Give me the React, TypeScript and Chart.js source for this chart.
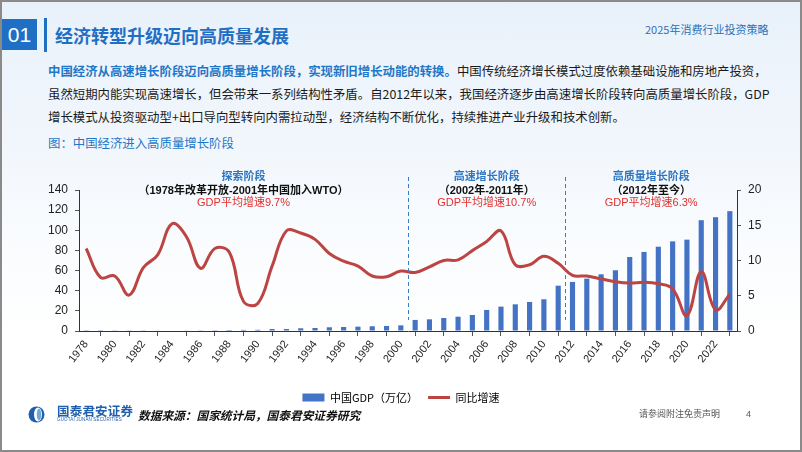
import React, { useEffect, useRef } from 'react';
import { Chart, registerables } from 'chart.js';

Chart.register(...registerables);

// ---------- data ----------
const years = [
  '1978', '1979', '1980', '1981', '1982', '1983', '1984', '1985', '1986', '1987',
  '1988', '1989', '1990', '1991', '1992', '1993', '1994', '1995', '1996', '1997',
  '1998', '1999', '2000', '2001', '2002', '2003', '2004', '2005', '2006', '2007',
  '2008', '2009', '2010', '2011', '2012', '2013', '2014', '2015', '2016', '2017',
  '2018', '2019', '2020', '2021', '2022', '2023',
];

// 中国GDP（万亿）, left axis
const gdpValues = [
  0.2, 0.2, 0.3, 0.3, 0.3, 0.4, 0.5, 0.6, 0.7, 0.8,
  1.0, 1.1, 1.2, 2.0, 2.0, 2.7, 3.0, 3.7, 4.0, 4.3,
  4.7, 5.0, 5.6, 11.0, 11.6, 12.9, 14.2, 15.9, 20.9, 24.2,
  26.5, 28.8, 31.5, 45.0, 48.7, 52.0, 56.3, 60.3, 73.5, 78.5,
  83.7, 89.0, 90.7, 110.0, 113.0, 119.0,
];

// 同比增速 (%), right axis
const growthValues = [
  11.7, 7.6, 7.8, 5.1, 9.0, 10.8, 15.2, 13.4, 8.9, 11.7,
  11.2, 4.2, 3.9, 9.2, 14.2, 13.9, 13.0, 11.0, 9.9, 9.2,
  7.8, 7.7, 8.5, 8.3, 9.1, 10.0, 10.1, 11.4, 12.7, 14.2,
  9.4, 9.4, 10.6, 9.6, 7.9, 7.8, 7.4, 7.0, 6.8, 6.9,
  6.7, 6.0, 2.2, 8.4, 3.0, 5.2,
];

const leftAxisMax = 140;
const leftAxisStep = 20;
const rightAxisMax = 20;
const rightAxisStep = 5;

const seriesNames = ['中国GDP（万亿）', '同比增速'];

const phaseStartIndex = [0, 23, 34];
const phaseEndIndex = [22, 33, 45];
const phaseTitles = ['探索阶段', '高速增长阶段', '高质量增长阶段'];
const phaseSpans = ['（1978年改革开放-2001年中国加入WTO）', '（2002年-2011年）', '（2012年至今）'];
const phaseRates = ['GDP平均增速9.7%', 'GDP平均增速10.7%', 'GDP平均增速6.3%'];

// ---------- styles ----------
const CJK = '"Noto Sans CJK SC", "Noto Sans", sans-serif';
const CHART_FONT = '"Liberation Sans", "Noto Sans CJK SC", sans-serif';
const BLUE = '#1F6FC5';
const BAR_COLOR = '#4472C4';
const LINE_COLOR = '#BC4442';

const phasePlugin = {
  id: 'phases',
  afterDatasetsDraw(chart: any) {
    const { ctx, chartArea, scales } = chart;
    const x = scales.x;
    const step = x.getPixelForValue(1) - x.getPixelForValue(0);
    ctx.save();
    // dashed dividers
    ctx.strokeStyle = '#3B7DC4';
    ctx.lineWidth = 1;
    ctx.setLineDash([4, 3]);
    for (let p = 0; p < phaseEndIndex.length - 1; p++) {
      const bx = Math.round(x.getPixelForValue(phaseEndIndex[p]) + step / 2) + 0.5;
      ctx.beginPath();
      ctx.moveTo(bx, chartArea.top - 13);
      ctx.lineTo(bx, chartArea.bottom - 11);
      ctx.stroke();
    }
    ctx.setLineDash([]);
    // texts
    ctx.textAlign = 'center';
    ctx.textBaseline = 'middle';
    for (let p = 0; p < phaseTitles.length; p++) {
      const l = x.getPixelForValue(phaseStartIndex[p]) - step / 2;
      const r = x.getPixelForValue(phaseEndIndex[p]) + step / 2;
      const cx = (l + r) / 2;
      ctx.fillStyle = '#2E75C0';
      ctx.font = 'bold 11px ' + CJK;
      ctx.fillText(phaseTitles[p], cx, chartArea.top - 14);
      ctx.fillStyle = '#111';
      ctx.font = 'bold 11px ' + CHART_FONT;
      ctx.fillText(phaseSpans[p], cx, chartArea.top + 1);
      ctx.fillStyle = '#E0302D';
      ctx.font = '11px ' + CHART_FONT;
      ctx.fillText(phaseRates[p], cx, chartArea.top + 13);
    }
    ctx.restore();
  },
};

export default function App() {
  const ref = useRef<HTMLCanvasElement>(null);

  useEffect(() => {
    const canvas = ref.current;
    if (!canvas) return;
    const chart = new Chart(canvas, {
      type: 'bar',
      data: {
        labels: years,
        datasets: [
          {
            type: 'bar',
            label: seriesNames[0],
            data: gdpValues,
            yAxisID: 'y',
            backgroundColor: BAR_COLOR,
            borderWidth: 0,
            categoryPercentage: 1,
            barPercentage: 0.36,
            order: 2,
            pointStyle: 'rect',
          } as any,
          {
            type: 'line',
            label: seriesNames[1],
            data: growthValues,
            yAxisID: 'y1',
            borderColor: LINE_COLOR,
            backgroundColor: LINE_COLOR,
            borderWidth: 3,
            tension: 0.4,
            pointRadius: 0,
            pointStyle: 'line',
            order: 1,
          } as any,
        ],
      },
      options: {
        responsive: false,
        animation: false,
        layout: { padding: { top: 30, left: 0, right: 0, bottom: 0 } },
        plugins: {
          tooltip: { enabled: false },
          legend: {
            display: true,
            position: 'bottom',
            labels: {
              usePointStyle: true,
              pointStyleWidth: 22,
              boxHeight: 8,
              padding: 10,
              color: '#000',
              font: { family: CJK, size: 11 },
              sort: (a: any, b: any) => a.datasetIndex - b.datasetIndex,
            },
          },
        },
        scales: {
          x: {
            type: 'category',
            offset: true,
            grid: {
              display: true,
              offset: true,
              drawOnChartArea: false,
              drawTicks: true,
              tickLength: 5,
              color: '#555',
            },
            border: { display: true, color: '#333', width: 1 },
            ticks: {
              autoSkip: false,
              maxRotation: 52,
              minRotation: 52,
              padding: 2,
              color: '#222',
              font: { family: CHART_FONT, size: 11 },
              callback: (_v: any, i: number) => (i % 2 === 0 ? years[i] : null),
            },
            afterFit: (s: any) => {
              s.height = 51;
            },
          },
          y: {
            position: 'left',
            min: 0,
            max: leftAxisMax,
            grid: {
              display: true,
              drawOnChartArea: false,
              drawTicks: true,
              tickLength: 4,
              color: '#555',
            },
            border: { display: true, color: '#333', width: 1 },
            ticks: {
              stepSize: leftAxisStep,
              padding: 7,
              color: '#222',
              font: { family: CHART_FONT, size: 12 },
            },
            afterFit: (s: any) => {
              s.width = 79;
            },
          },
          y1: {
            position: 'right',
            min: 0,
            max: rightAxisMax,
            grid: {
              display: true,
              drawOnChartArea: false,
              drawTicks: true,
              tickLength: 4,
              color: '#555',
            },
            border: { display: true, color: '#333', width: 1 },
            ticks: {
              stepSize: rightAxisStep,
              padding: 7,
              color: '#222',
              font: { family: CHART_FONT, size: 12 },
            },
            afterFit: (s: any) => {
              s.width = 65;
            },
          },
        },
      } as any,
      plugins: [phasePlugin],
    });
    return () => chart.destroy();
  }, []);

  const pStyle: React.CSSProperties = {
    position: 'absolute',
    left: 48,
    whiteSpace: 'nowrap',
    fontSize: 12.4,
    lineHeight: '16px',
    color: '#1a1a1a',
    fontFamily: CJK,
  };

  return (
    <div
      style={{
        position: 'absolute',
        left: 0,
        top: 0,
        width: 802,
        height: 452,
        overflow: 'hidden',
        fontFamily: CJK,
        background:
          'linear-gradient(180deg, #E8F1FA 0%, #F1F6FC 30%, #FAFCFE 55%, #FFFFFF 75%, #FFFFFF 100%)',
        boxShadow: 'inset 0 0 0 2px #8A8A8A',
      }}
    >
      {/* header */}
      <div
        style={{
          position: 'absolute',
          left: 2,
          top: 19,
          width: 35,
          height: 31,
          background: BLUE,
          color: '#fff',
          fontSize: 21,
          lineHeight: '31px',
          textAlign: 'center',
          fontFamily: '"Liberation Sans", sans-serif',
        }}
      >
        01
      </div>
      <div style={{ position: 'absolute', left: 44, top: 18, width: 3, height: 34, background: BLUE }} />
      <div
        style={{
          position: 'absolute',
          left: 55,
          top: 23,
          fontSize: 18,
          lineHeight: '24px',
          fontWeight: 'bold',
          color: BLUE,
          whiteSpace: 'nowrap',
        }}
      >
        经济转型升级迈向高质量发展
      </div>
      <div
        style={{
          position: 'absolute',
          left: 645,
          top: 21,
          fontSize: 11,
          lineHeight: '16px',
          color: '#2E70B8',
          whiteSpace: 'nowrap',
        }}
      >
        2025年消费行业投资策略
      </div>

      {/* paragraph */}
      <div style={{ ...pStyle, top: 63 }}>
        <span style={{ color: '#1F77C8', fontWeight: 'bold' }}>
          中国经济从高速增长阶段迈向高质量增长阶段，实现新旧增长动能的转换。
        </span>
        中国传统经济增长模式过度依赖基础设施和房地产投资，
      </div>
      <div style={{ ...pStyle, top: 86 }}>
        虽然短期内能实现高速增长，但会带来一系列结构性矛盾。自2012年以来，我国经济逐步由高速增长阶段转向高质量增长阶段，GDP
      </div>
      <div style={{ ...pStyle, top: 109 }}>
        增长模式从投资驱动型+出口导向型转向内需拉动型，经济结构不断优化，持续推进产业升级和技术创新。
      </div>
      <div style={{ ...pStyle, top: 135, color: '#1F77C8' }}>图：中国经济进入高质量增长阶段</div>

      {/* chart */}
      <div style={{ position: 'absolute', left: 0, top: 160, width: 802, height: 253 }}>
        <canvas ref={ref} width={802} height={253} style={{ width: 802, height: 253, display: 'block' }} />
      </div>

      {/* footer */}
      <svg style={{ position: 'absolute', left: 28, top: 406 }} width={17} height={17} viewBox="0 0 17 17">
        <circle cx="8.5" cy="8.5" r="8" fill="#1F5FAE" />
        <ellipse cx="10" cy="8.5" rx="4" ry="7" fill="#ffffff" />
        <ellipse cx="11" cy="8.5" rx="2.2" ry="6" fill="#6FA8DC" />
      </svg>
      <div
        style={{
          position: 'absolute',
          left: 57,
          top: 403,
          fontSize: 12.5,
          lineHeight: '16px',
          fontWeight: 'bold',
          color: '#1F5FAE',
          whiteSpace: 'nowrap',
          letterSpacing: 0.2,
        }}
      >
        国泰君安证券
      </div>
      <div
        style={{
          position: 'absolute',
          left: 57,
          top: 417,
          fontSize: 4.5,
          lineHeight: '5px',
          color: '#1F5FAE',
          whiteSpace: 'nowrap',
          fontFamily: '"Liberation Sans", sans-serif',
          letterSpacing: 0.15,
        }}
      >
        GUOTAI JUNAN SECURITIES
      </div>
      <div
        style={{
          position: 'absolute',
          left: 138,
          top: 407,
          fontSize: 11.7,
          lineHeight: '16px',
          fontWeight: 'bold',
          fontStyle: 'italic',
          color: '#111',
          whiteSpace: 'nowrap',
        }}
      >
        数据来源：国家统计局，国泰君安证券研究
      </div>
      <div
        style={{
          position: 'absolute',
          left: 639,
          top: 407,
          fontSize: 9,
          lineHeight: '14px',
          color: '#555',
          whiteSpace: 'nowrap',
        }}
      >
        请参阅附注免责声明
      </div>
      <div
        style={{
          position: 'absolute',
          left: 746,
          top: 407,
          fontSize: 9,
          lineHeight: '14px',
          color: '#555',
          fontFamily: '"Liberation Sans", sans-serif',
        }}
      >
        4
      </div>
    </div>
  );
}
